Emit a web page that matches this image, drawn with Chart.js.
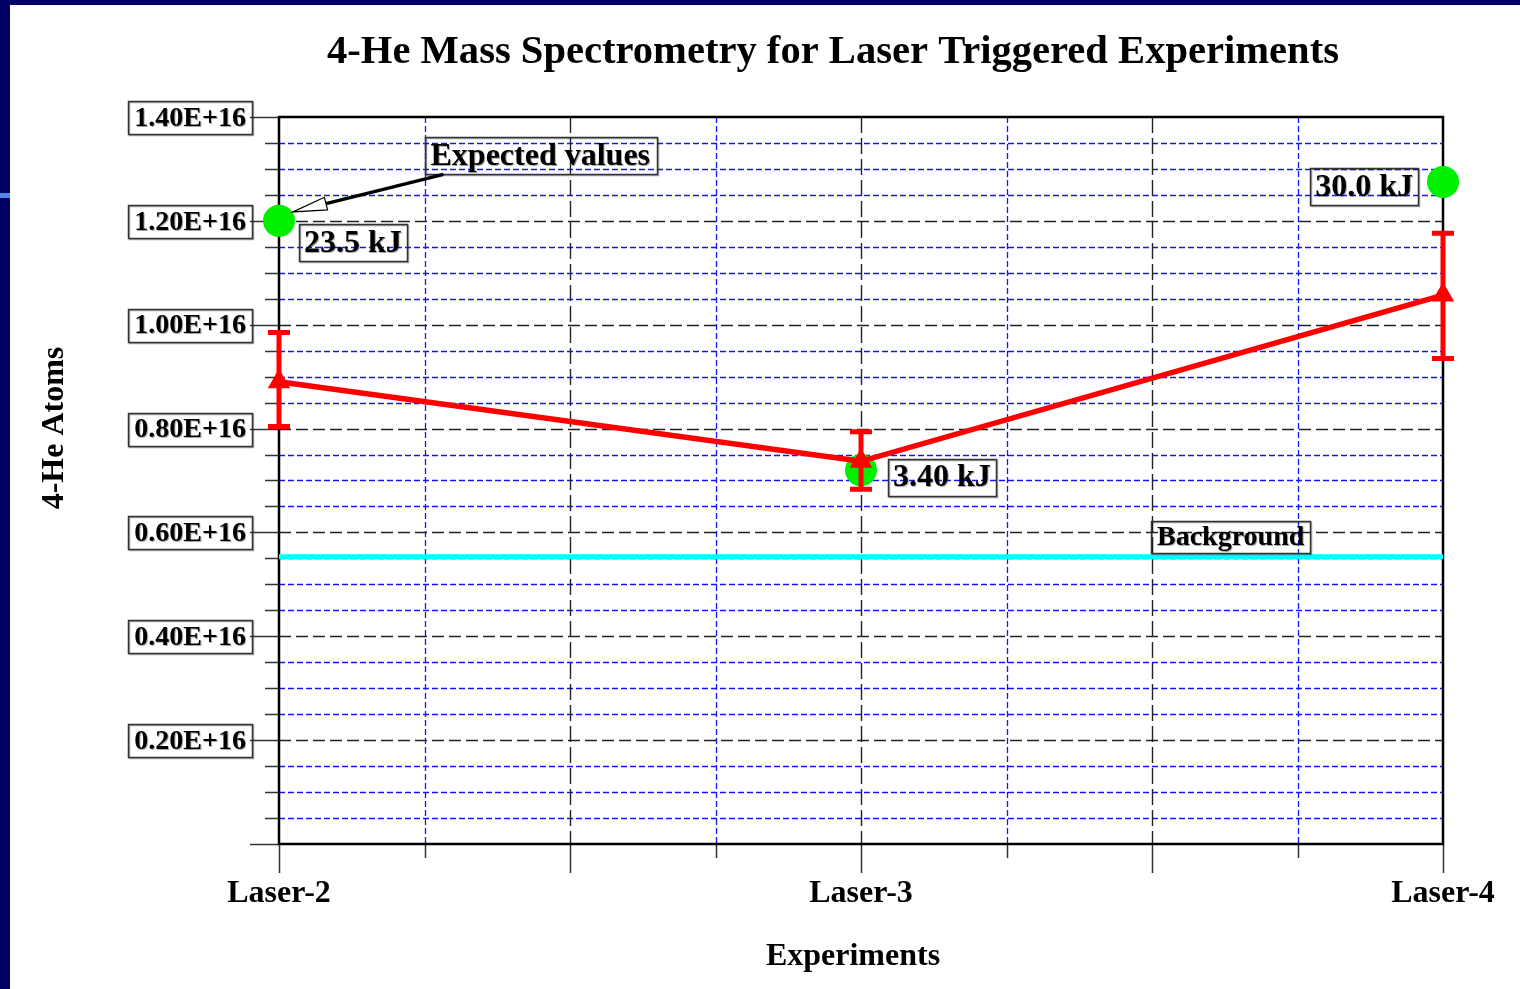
<!DOCTYPE html>
<html>
<head>
<meta charset="utf-8">
<title>4-He Mass Spectrometry for Laser Triggered Experiments</title>
<script src="https://cdn.jsdelivr.net/npm/chart.js@4.4.1/dist/chart.umd.min.js"></script>
<style>
  html, body { margin: 0; padding: 0; background: #ffffff; }
  #frame { position: relative; width: 1520px; height: 989px; overflow: hidden; background: #ffffff; }
  #frame .edge-left { position: absolute; left: 0; top: 0; width: 10px; height: 989px; background: #000066; }
  #frame .edge-top { position: absolute; left: 0; top: 0; width: 1520px; height: 5px; background: #000066; }
  #frame .edge-mark { position: absolute; left: 0; top: 193px; width: 10px; height: 5px; background: #4f86e8; }
  canvas { position: absolute; left: 0; top: 0; }
</style>
</head>
<body>
<div id="frame">
  <canvas id="chart" width="1520" height="989"></canvas>
  <div class="edge-left"></div>
  <div class="edge-top"></div>
  <div class="edge-mark"></div>
</div>
<script>
// Experiments along the x axis
const experiments = ['Laser-2', 'Laser-3', 'Laser-4'];
// Measured 4-He atoms (units of 1E+16) with error-bar limits
const measured = [0.890, 0.737, 1.057];
const measuredHigh = [0.985, 0.794, 1.176];
const measuredLow = [0.804, 0.683, 0.935];
// Expected values and the laser energy of each shot
const expected = [1.200, 0.720, 1.275];
const energyLabels = ['23.5 kJ', '3.40 kJ', '30.0 kJ'];
// Background level (units of 1E+16)
const background = 0.553;
// Y axis ticks
const yMajorTicks = [0.20, 0.40, 0.60, 0.80, 1.00, 1.20, 1.40];
const yTickLabels = ['0.20E+16', '0.40E+16', '0.60E+16', '0.80E+16', '1.00E+16', '1.20E+16', '1.40E+16'];
const yMax = 1.40;
const yMinorStep = 0.05;
// X axis divisions between experiments
const xMajorStep = 0.5;
const xMinorStep = 0.25;

const SERIF = '"Liberation Serif", "Times New Roman", Times, serif';
const RED = '#ff0000';

function boxedText(ctx, text, cx, cy, size, padX, h, align) {
  ctx.save();
  ctx.font = 'bold ' + size + 'px ' + SERIF;
  const w = ctx.measureText(text).width;
  let left;
  if (align === 'left') left = cx;
  else if (align === 'right') left = cx - (w + 2 * padX);
  else left = cx - (w + 2 * padX) / 2;
  const bw = w + 2 * padX;
  // soft drop shadow on text and frame
  ctx.shadowColor = 'rgba(0,0,0,0.35)';
  ctx.shadowOffsetX = 1;
  ctx.shadowOffsetY = 1;
  ctx.shadowBlur = 0;
  ctx.fillStyle = '#000';
  ctx.textAlign = 'left';
  ctx.textBaseline = 'middle';
  ctx.fillText(text, left + padX, cy + 1);
  ctx.strokeStyle = '#333';
  ctx.lineWidth = 1.5;
  ctx.strokeRect(Math.round(left) + 0.5, Math.round(cy - h / 2) + 0.5, Math.round(bw), Math.round(h));
  ctx.restore();
  return { left: left, right: left + bw, top: cy - h / 2, bottom: cy + h / 2 };
}

const frameworkPlugin = {
  id: 'frameworkPlugin',
  beforeDatasetsDraw(chart) {
    const ctx = chart.ctx;
    const xs = chart.scales.x, ys = chart.scales.y;
    const a = chart.chartArea;
    ctx.save();

    // horizontal grid: blue minor lines, black dashed major lines
    const nMinor = Math.round(yMax / yMinorStep);
    for (let i = 1; i < nMinor; i++) {
      const v = i * yMinorStep;
      const y = Math.round(ys.getPixelForValue(v)) + 0.5;
      const major = i % 4 === 0;
      ctx.beginPath();
      ctx.setLineDash(major ? [12, 5] : [6, 3]);
      ctx.strokeStyle = major ? '#222' : '#1414ff';
      ctx.lineWidth = major ? 1.4 : 1.3;
      ctx.moveTo(a.left, y);
      ctx.lineTo(a.right, y);
      ctx.stroke();
    }
    // vertical grid
    const nx = Math.round((xs.max - xs.min) / xMinorStep);
    for (let i = 1; i < nx; i++) {
      const v = xs.min + i * xMinorStep;
      const x = Math.round(xs.getPixelForValue(v)) + 0.5;
      const major = Math.abs(v / xMajorStep - Math.round(v / xMajorStep)) < 1e-6;
      ctx.beginPath();
      ctx.setLineDash(major ? [16, 5] : [6, 3]);
      ctx.strokeStyle = major ? '#222' : '#1414ff';
      ctx.lineWidth = major ? 1.4 : 1.3;
      ctx.moveTo(x, a.top);
      ctx.lineTo(x, a.bottom);
      ctx.stroke();
    }
    ctx.setLineDash([]);

    // y tick marks
    ctx.strokeStyle = '#333';
    ctx.lineWidth = 1.5;
    for (let i = 0; i <= nMinor; i++) {
      const v = i * yMinorStep;
      const y = Math.round(ys.getPixelForValue(v)) + 0.5;
      const major = i % 4 === 0;
      ctx.beginPath();
      ctx.moveTo(a.left - (major ? 29 : 14), y);
      ctx.lineTo(a.left, y);
      ctx.stroke();
    }
    // x tick marks
    for (let i = 0; i <= nx; i++) {
      const v = xs.min + i * xMinorStep;
      const x = Math.round(xs.getPixelForValue(v)) + 0.5;
      const major = Math.abs(v / xMajorStep - Math.round(v / xMajorStep)) < 1e-6;
      ctx.beginPath();
      ctx.moveTo(x, a.bottom);
      ctx.lineTo(x, a.bottom + (major ? 29 : 14));
      ctx.stroke();
    }

    // plot frame
    ctx.strokeStyle = '#000';
    ctx.lineWidth = 2.5;
    ctx.strokeRect(a.left, a.top, a.right - a.left, a.bottom - a.top);

    // boxed y tick labels
    yMajorTicks.forEach((v, i) => {
      const y = ys.getPixelForValue(v);
      boxedText(ctx, yTickLabels[i], a.left - 27, y + 0.5, 28, 6, 33, 'right');
    });

    // x tick labels
    ctx.font = 'bold 32px ' + SERIF;
    ctx.fillStyle = '#000';
    ctx.textAlign = 'center';
    ctx.textBaseline = 'alphabetic';
    experiments.forEach((name, i) => {
      ctx.fillText(name, xs.getPixelForValue(i), a.bottom + 58);
    });

    // titles
    ctx.font = 'bold 40.6px ' + SERIF;
    ctx.fillText('4-He Mass Spectrometry for Laser Triggered Experiments', 833, 63);
    ctx.font = 'bold 32px ' + SERIF;
    ctx.fillText('Experiments', 853, 965);
    ctx.save();
    ctx.translate(63, 428);
    ctx.rotate(-Math.PI / 2);
    ctx.fillText('4-He Atoms', 0, 0);
    ctx.restore();

    ctx.restore();
  },
  afterDatasetsDraw(chart) {
    const ctx = chart.ctx;
    const xs = chart.scales.x, ys = chart.scales.y;
    ctx.save();

    // error bars
    ctx.strokeStyle = RED;
    ctx.lineWidth = 5;
    experiments.forEach((_, i) => {
      const x = xs.getPixelForValue(i);
      const yHi = ys.getPixelForValue(measuredHigh[i]);
      const yLo = ys.getPixelForValue(measuredLow[i]);
      ctx.beginPath();
      ctx.moveTo(x, yHi); ctx.lineTo(x, yLo);
      ctx.moveTo(x - 11, yHi); ctx.lineTo(x + 11, yHi);
      ctx.moveTo(x - 11, yLo); ctx.lineTo(x + 11, yLo);
      ctx.stroke();
    });

    // energy labels next to the expected values
    const gx = experiments.map((_, i) => xs.getPixelForValue(i));
    const gy = expected.map(v => ys.getPixelForValue(v));
    boxedText(ctx, energyLabels[0], gx[0] + 20, gy[0] + 22, 32, 5, 37, 'left');
    boxedText(ctx, energyLabels[1], gx[1] + 27, gy[1] + 7, 32, 5, 37, 'left');
    boxedText(ctx, energyLabels[2], gx[2] - 25, gy[2] + 5, 32, 5, 37, 'right');

    // background label
    const by = ys.getPixelForValue(background);
    boxedText(ctx, 'Background', xs.getPixelForValue(1.5) - 1, by - 20, 28, 6, 32, 'left');

    // "Expected values" callout with an open arrowhead
    const box = boxedText(ctx, 'Expected values', xs.getPixelForValue(0.25), gy[0] - 65, 32, 6, 37, 'left');
    const start = { x: box.left + 19, y: box.bottom };
    const tip = { x: gx[0] + 14, y: gy[0] - 9 };
    const dx = tip.x - start.x, dy = tip.y - start.y;
    const len = Math.hypot(dx, dy);
    const ux = dx / len, uy = dy / len;
    const headLen = 34, headHalf = 6.5;
    const base = { x: tip.x - ux * headLen, y: tip.y - uy * headLen };
    ctx.strokeStyle = '#000';
    ctx.lineWidth = 3.5;
    ctx.beginPath();
    ctx.moveTo(start.x, start.y);
    ctx.lineTo(base.x, base.y);
    ctx.stroke();
    ctx.beginPath();
    ctx.moveTo(tip.x, tip.y);
    ctx.lineTo(base.x - uy * headHalf, base.y + ux * headHalf);
    ctx.lineTo(base.x + uy * headHalf, base.y - ux * headHalf);
    ctx.closePath();
    ctx.fillStyle = '#fff';
    ctx.fill();
    ctx.lineWidth = 1.2;
    ctx.stroke();

    ctx.restore();
  }
};

new Chart(document.getElementById('chart'), {
  type: 'line',
  data: {
    datasets: [
      {
        label: 'Measured',
        data: experiments.map((_, i) => ({ x: i, y: measured[i] })),
        borderColor: RED,
        borderWidth: 5.5,
        backgroundColor: RED,
        pointStyle: 'triangle',
        pointRadius: 13,
        pointBorderWidth: 0,
        pointBackgroundColor: RED,
        tension: 0,
        clip: false,
        order: 1
      },
      {
        label: 'Expected values',
        data: experiments.map((_, i) => ({ x: i, y: expected[i] })),
        showLine: false,
        pointStyle: 'circle',
        pointRadius: 16,
        pointBorderWidth: 0,
        pointBackgroundColor: '#00f000',
        backgroundColor: '#00f000',
        clip: false,
        order: 2
      },
      {
        label: 'Background',
        data: [{ x: 0, y: background }, { x: experiments.length - 1, y: background }],
        borderColor: '#00ffff',
        borderWidth: 5,
        pointRadius: 0,
        clip: false,
        order: 3
      }
    ]
  },
  options: {
    responsive: false,
    animation: false,
    layout: { padding: { left: 279, right: 77, top: 117, bottom: 145 } },
    plugins: { legend: { display: false }, tooltip: { enabled: false }, title: { display: false } },
    scales: {
      x: { type: 'linear', min: 0, max: experiments.length - 1, display: false },
      y: { type: 'linear', min: 0, max: yMax, display: false }
    }
  },
  plugins: [frameworkPlugin]
});
</script>
</body>
</html>
